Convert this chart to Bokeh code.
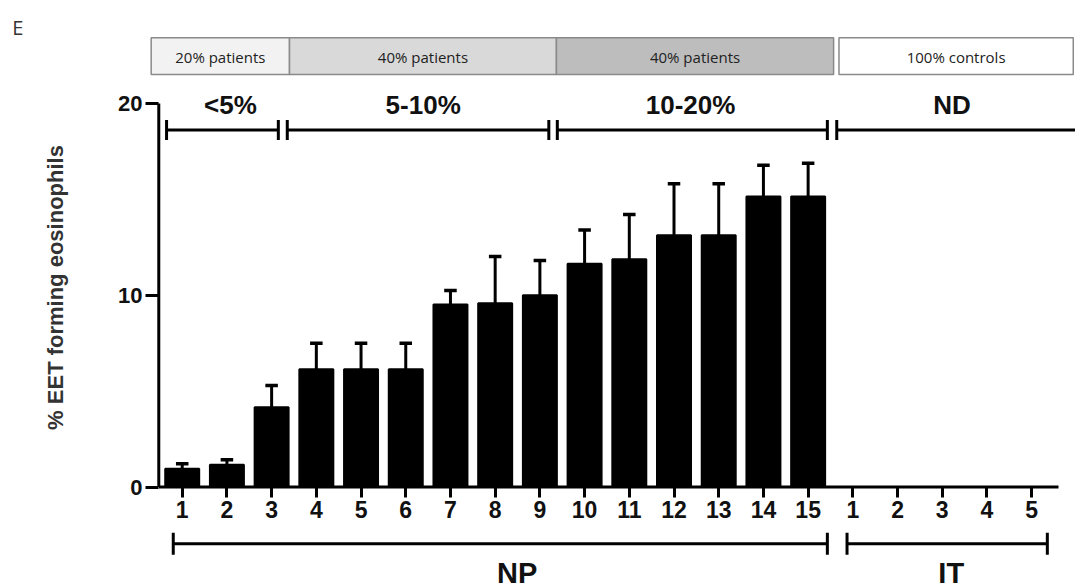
from bokeh.plotting import figure
from bokeh.models import Range1d, FixedTicker, ColumnDataSource
from bokeh.core.properties import value
from bokeh.embed import file_html
from bokeh.resources import INLINE

# ---------------- data ----------------
np_subjects = [str(i) for i in range(1, 16)]
it_subjects = ["1", "2", "3", "4", "5"]
np_means = [0.95, 1.16, 4.16, 6.14, 6.14, 6.14, 9.52, 9.59, 10.0, 11.64, 11.88, 13.13, 13.13, 15.15, 15.15]
np_sem = [0.26, 0.26, 1.13, 1.36, 1.36, 1.36, 0.73, 2.43, 1.81, 1.77, 2.33, 2.68, 2.68, 1.63, 1.74]
it_means = [0, 0, 0, 0, 0]
it_sem = [0, 0, 0, 0, 0]
y_ticks = [0, 10, 20]
group_labels = ["<5%", "5-10%", "10-20%", "ND"]
box_labels = ["20% patients", "40% patients", "40% patients", "100% controls"]
box_colors = ["#f2f2f2", "#d9d9d9", "#bdbdbd", "#ffffff"]
cohort_labels = ["NP", "IT"]
y_label = "% EET forming eosinophils"
panel_letter = "E"

# ---------------- layout constants ----------------
FONT = value("Liberation Sans")
W = 1075
XR = (-3.064, 20.98)          # full-width x mapping (top / bottom strips)

labels = np_subjects + it_subjects
means = np_means + it_means
sems = np_sem + it_sem
xs = list(range(1, len(labels) + 1))

src = ColumnDataSource(dict(x=xs, top=means))
err = ColumnDataSource(dict(
    x=[x for x, s in zip(xs, sems) if s > 0],
    top=[m for m, s in zip(means, sems) if s > 0],
    etop=[m + s for m, s in zip(means, sems) if s > 0],
    cl=[x - 0.14 for x, s in zip(xs, sems) if s > 0],
    cr=[x + 0.14 for x, s in zip(xs, sems) if s > 0],
))


def strip(height, yr):
    f = figure(width=W, height=height, x_range=Range1d(*XR), y_range=Range1d(*yr),
               output_backend="svg", toolbar_location=None,
               x_axis_location=None, y_axis_location=None,
               min_border=0, min_border_left=0, min_border_right=0,
               min_border_top=0, min_border_bottom=0)
    f.outline_line_color = None
    f.grid.visible = False
    return f


# ---------------- top strip (boxes) ----------------
top = strip(85, (20.94, 25.37))
box_left = [0.306, 3.40, 9.37, 15.69]
box_right = [3.40, 9.37, 15.57, 20.93]
top.quad(left=box_left, right=box_right, bottom=21.51, top=23.43,
         fill_color=box_colors, line_color="#8a8a8a", line_width=1.5)
top.text(x=[(a + b) / 2 for a, b in zip(box_left, box_right)], y=[22.45] * 4, text=box_labels,
         text_align="center", text_baseline="middle", text_font=value("Open Sans"),
         text_font_size="15px", text_color="#222222")
top.text(x=[-2.80], y=[23.96], text=[panel_letter], text_align="left", text_baseline="middle",
         text_font=value("Open Sans"), text_font_size="20px", text_color="#333333")

# ---------------- main chart ----------------
p = figure(width=W, height=446, x_range=Range1d(0.4026, 20.98), y_range=Range1d(-0.130, 20.94),
           output_backend="svg", toolbar_location=None,
           min_border_left=155, min_border_right=0, min_border_top=0, min_border_bottom=42)
p.outline_line_color = None
p.grid.visible = False

p.vbar(x="x", top="top", bottom=0, width=0.76, source=src,
       fill_color="black", line_color="black", line_width=2)
p.segment(x0="x", y0="top", x1="x", y1="etop", source=err, line_color="black", line_width=3)
p.segment(x0="cl", y0="etop", x1="cr", y1="etop", source=err, line_color="black", line_width=3.5)

# axis lines (drawn so that they end where the original's do)
p.segment(x0=[0.476], y0=[0], x1=[20.6], y1=[0], line_color="black", line_width=3)
p.segment(x0=[0.476], y0=[0], x1=[0.476], y1=[20], line_color="black", line_width=3)

# group brackets on top
br_l = [0.65, 3.35, 9.39, 15.64]
br_r = [3.15, 9.20, 15.43, 21.5]
by = 18.62
p.segment(x0=br_l, y0=[by] * 4, x1=br_r, y1=[by] * 4, line_color="black", line_width=3)
caps = br_l + br_r[:3]
p.segment(x0=caps, y0=[by - 0.52] * 7, x1=caps, y1=[by + 0.52] * 7, line_color="black", line_width=3)
p.text(x=[2.08, 6.39, 12.37, 18.22], y=[19.9] * 4, text=group_labels, text_align="center",
       text_baseline="middle", text_font=FONT, text_font_style="bold",
       text_font_size="26px", text_color="#111111")

xa = p.xaxis[0]
xa.ticker = FixedTicker(ticks=xs)
xa.major_label_overrides = {x: lab for x, lab in zip(xs, labels)}
xa.axis_line_color = None
xa.major_tick_line_width = 3
xa.major_tick_out = 8
xa.major_tick_in = 3
xa.minor_tick_line_color = None
xa.major_label_standoff = 3
xa.major_label_text_font = "Liberation Sans"
xa.major_label_text_font_style = "bold"
xa.major_label_text_font_size = "23px"
xa.major_label_text_color = "#111111"

ya = p.yaxis[0]
ya.ticker = FixedTicker(ticks=y_ticks)
ya.axis_line_color = None
ya.major_tick_line_width = 3
ya.major_tick_out = 10
ya.major_tick_in = 3
ya.minor_tick_line_color = None
ya.major_label_standoff = 3
ya.major_label_text_font = "Liberation Sans"
ya.major_label_text_font_style = "bold"
ya.major_label_text_font_size = "22px"
ya.major_label_text_color = "#111111"
ya.axis_label = y_label
ya.axis_label_standoff = 47
ya.axis_label_text_font = "Liberation Sans"
ya.axis_label_text_font_style = "bold"
ya.axis_label_text_font_size = "22px"
ya.axis_label_text_color = "#333333"

# ---------------- bottom strip (cohort brackets) ----------------
bot = strip(57, (-5.294, -2.321))
cb_l = [0.80, 15.87]
cb_r = [15.43, 20.35]
cy = -2.962
bot.segment(x0=cb_l, y0=[cy] * 2, x1=cb_r, y1=[cy] * 2, line_color="black", line_width=3)
ends = cb_l + cb_r
bot.segment(x0=ends, y0=[cy - 0.57] * 4, x1=ends, y1=[cy + 0.57] * 4, line_color="black", line_width=3)
bot.text(x=[8.49, 18.2], y=[-4.47, -4.47], text=cohort_labels, text_align="center",
         text_baseline="middle", text_font=FONT, text_font_style="bold",
         text_font_size="29px", text_color="#111111")

open("out.html", "w").write(file_html([top, p, bot], INLINE))
